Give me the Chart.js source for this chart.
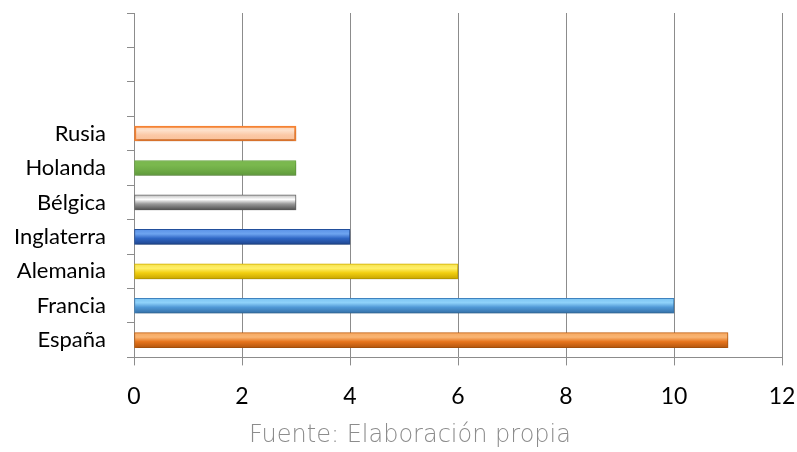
<!DOCTYPE html>
<html>
<head>
<meta charset="utf-8">
<script src="https://cdn.jsdelivr.net/npm/chart.js@4/dist/chart.umd.min.js"></script>
<style>
  html, body { margin: 0; padding: 0; background: #fff; overflow: hidden; }
  #wrap { position: relative; width: 797px; height: 452px; }
  #source {
    position: absolute; left: 410px; top: 420px; transform: translateX(-50%);
    white-space: nowrap;
    font-family: 'DejaVu Sans', sans-serif; font-weight: 200; font-size: 24px;
    line-height: 28px; color: #8c8c8c;
  }
</style>
</head>
<body>
<div id="wrap">
  <canvas id="chart"></canvas>
  <div id="source"></div>
</div>
<script>
// bottom to top
const countries = ['España', 'Francia', 'Alemania', 'Inglaterra', 'Bélgica', 'Holanda', 'Rusia'];
const values = [11, 10, 6, 4, 3, 3, 3];
const emptySlots = ['', '', ''];
const xTicks = [0, 2, 4, 6, 8, 10, 12];
const source = 'Fuente: Elaboración propia';

// [top, highlight, main, bottom]
const barShades = [
    ['#f6a860', '#f9b574', '#e6741c', '#b4560e'],
    ['#7cc4f2', '#8fd2fa', '#4f98d6', '#346fa6'],
    ['#f5e04a', '#fff06a', '#f2cf10', '#c9a600'],
    ['#5a92e6', '#6ea4f0', '#2f66c4', '#1f468f'],
    ['#bdbdbd', '#ffffff', '#9a9a9a', '#4f4f4f'],
    ['#7ab84e', '#7ab84e', '#70ad47', '#5e9a3a'],
    ['#fcd3b6', '#fde0ca', '#fbc9a6', '#f8bf98']
];
const barBorders = ['#c4600f', '#3f84c0', '#d6b400', '#22509e', '#6a6a6a', '#6aa842', '#f58232'];

document.getElementById('source').textContent = source;

const labels = countries.concat(emptySlots);
const data = values.concat(emptySlots.map(() => null));

const gridColor = '#8c8c8c';
const barHalf = 7.5;

const fillFor = (ctx) => {
    const i = ctx.dataIndex;
    const shades = barShades[i] || barShades[0];
    const chart = ctx.chart;
    const y = chart.scales && chart.scales.y;
    if (!y || !chart.chartArea) return shades[2];
    const c = y.getPixelForValue(i);
    const g = chart.ctx.createLinearGradient(0, c - barHalf, 0, c + barHalf);
    g.addColorStop(0, shades[0]);
    g.addColorStop(0.3, shades[1]);
    g.addColorStop(0.6, shades[2]);
    g.addColorStop(1, shades[3]);
    return g;
};

const barShadow = {
    id: 'barShadow',
    beforeDatasetsDraw(chart) {
        const c = chart.ctx;
        c.save();
        c.shadowColor = 'rgba(0,0,0,0.25)';
        c.shadowBlur = 3;
        c.shadowOffsetX = 1;
        c.shadowOffsetY = 2;
    },
    afterDatasetsDraw(chart) {
        chart.ctx.restore();
    }
};

new Chart(document.getElementById('chart'), {
    type: 'bar',
    data: {
        labels: labels,
        datasets: [{
            data: data,
            backgroundColor: fillFor,
            borderColor: barBorders,
            borderWidth: (ctx) => ctx.dataIndex === 6 ? 2 : 1,
            borderSkipped: false,
            barThickness: 15
        }]
    },
    plugins: [barShadow],
    options: {
        indexAxis: 'y',
        responsive: true,
        maintainAspectRatio: false,
        animation: false,
        layout: { padding: { top: 13, left: 0, right: 15, bottom: 25 } },
        plugins: {
            legend: { display: false },
            tooltip: { enabled: false }
        },
        scales: {
            x: {
                min: 0,
                max: 12,
                afterBuildTicks: (scale) => { scale.ticks = xTicks.map(v => ({ value: v })); },
                afterFit: (scale) => { scale.paddingLeft = 0; scale.paddingRight = 0; },
                grid: { color: gridColor, lineWidth: 1, tickLength: 8, drawTicks: true },
                border: { color: gridColor, width: 1 },
                ticks: { color: '#000', padding: 17, font: { family: 'Lato', size: 23 } }
            },
            y: {
                reverse: true,
                afterFit: (scale) => { scale.width = 134; scale.paddingTop = 0; scale.paddingBottom = 0; },
                grid: { drawOnChartArea: false, color: gridColor, tickLength: 7, offset: true },
                border: { color: gridColor, width: 1 },
                ticks: { color: '#000', padding: 21, font: { family: 'Lato', size: 22 } }
            }
        }
    }
});
</script>
</body>
</html>
